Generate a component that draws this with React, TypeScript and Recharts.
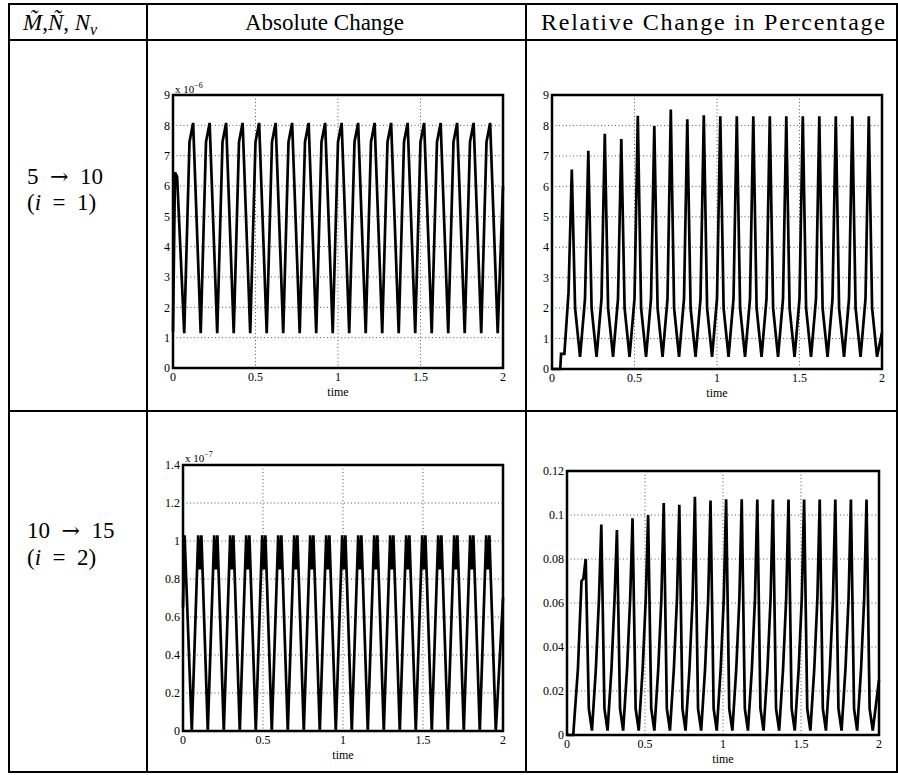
import { CartesianGrid, Line, LineChart, ReferenceArea, XAxis, YAxis } from "recharts"

const SERIF = "'Liberation Serif', 'Times New Roman', serif"

// x-axis ticks shared by all four panels
const timeTicks = [0, 0.5, 1, 1.5, 2]
const ticksNine = [0, 1, 2, 3, 4, 5, 6, 7, 8, 9]
const ticksC = [0, 0.2, 0.4, 0.6, 0.8, 1, 1.2, 1.4]
const ticksD = [0, 0.02, 0.04, 0.06, 0.08, 0.1, 0.12]

// 5 -> 10, absolute change (x 1e-6)
const timeA = [
  0, 0.012, 0.025, 0.068,
  0.1, 0.122, 0.168,
  0.2, 0.222, 0.268,
  0.3, 0.322, 0.368,
  0.4, 0.422, 0.468,
  0.5, 0.522, 0.568,
  0.6, 0.622, 0.668,
  0.7, 0.722, 0.768,
  0.8, 0.822, 0.868,
  0.9, 0.922, 0.968,
  1.0, 1.022, 1.068,
  1.1, 1.122, 1.168,
  1.2, 1.222, 1.268,
  1.3, 1.322, 1.368,
  1.4, 1.422, 1.468,
  1.5, 1.522, 1.568,
  1.6, 1.622, 1.668,
  1.7, 1.722, 1.768,
  1.8, 1.822, 1.868,
  1.9, 1.922, 1.968,
  2.0,
]
const absA = [
  1.2, 6.45, 6.3, 1.15,
  7.45, 8.08, 1.15,
  7.45, 8.08, 1.15,
  7.45, 8.08, 1.15,
  7.45, 8.08, 1.15,
  7.45, 8.08, 1.15,
  7.45, 8.08, 1.15,
  7.45, 8.08, 1.15,
  7.45, 8.08, 1.15,
  7.45, 8.08, 1.15,
  7.45, 8.08, 1.15,
  7.45, 8.08, 1.15,
  7.45, 8.08, 1.15,
  7.45, 8.08, 1.15,
  7.45, 8.08, 1.15,
  7.45, 8.08, 1.15,
  7.45, 8.08, 1.15,
  7.45, 8.08, 1.15,
  7.45, 8.08, 1.15,
  7.45, 8.08, 1.15,
  6.0,
]

// 5 -> 10, relative change in percentage
const timeB = [
  0, 0.05, 0.055, 0.075, 0.1, 0.12, 0.14,
  0.17, 0.2, 0.22, 0.24,
  0.27, 0.3, 0.32, 0.34,
  0.37, 0.4, 0.42, 0.44,
  0.47, 0.5, 0.52, 0.54,
  0.57, 0.6, 0.62, 0.64,
  0.67, 0.7, 0.72, 0.74,
  0.77, 0.8, 0.82, 0.84,
  0.87, 0.9, 0.92, 0.94,
  0.97, 1.0, 1.02, 1.04,
  1.07, 1.1, 1.12, 1.14,
  1.17, 1.2, 1.22, 1.24,
  1.27, 1.3, 1.32, 1.34,
  1.37, 1.4, 1.42, 1.44,
  1.47, 1.5, 1.52, 1.54,
  1.57, 1.6, 1.62, 1.64,
  1.67, 1.7, 1.72, 1.74,
  1.77, 1.8, 1.82, 1.84,
  1.87, 1.9, 1.92, 1.94,
  1.97, 2.0,
]
const relB = [
  0, 0, 0.5, 0.5, 2.5, 6.55, 2.0,
  0.4, 2.3, 7.17, 2.0, // 0.22
  0.4, 2.3, 7.73, 2.0, // 0.32
  0.4, 2.3, 7.55, 2.0, // 0.42
  0.4, 2.3, 8.32, 2.0, // 0.52
  0.4, 2.3, 7.98, 2.0, // 0.62
  0.4, 2.3, 8.52, 2.0, // 0.72
  0.4, 2.3, 8.2, 2.0, // 0.82
  0.4, 2.3, 8.33, 2.0, // 0.92
  0.4, 2.3, 8.3, 2.0, // 1.02
  0.4, 2.3, 8.3, 2.0, // 1.12
  0.4, 2.3, 8.3, 2.0, // 1.22
  0.4, 2.3, 8.3, 2.0, // 1.32
  0.4, 2.3, 8.3, 2.0, // 1.42
  0.4, 2.3, 8.3, 2.0, // 1.52
  0.4, 2.3, 8.3, 2.0, // 1.62
  0.4, 2.3, 8.3, 2.0, // 1.72
  0.4, 2.3, 8.3, 2.0, // 1.82
  0.4, 2.3, 8.3, 2.0, // 1.92
  0.4, 1.2,
]

// 10 -> 15, absolute change (x 1e-7)
const timeC = [
  0, 0.01, 0.055,
  0.095, 0.105, 0.115, 0.155,
  0.195, 0.205, 0.215, 0.255,
  0.295, 0.305, 0.315, 0.355,
  0.395, 0.405, 0.415, 0.455,
  0.495, 0.505, 0.515, 0.555,
  0.595, 0.605, 0.615, 0.655,
  0.695, 0.705, 0.715, 0.755,
  0.795, 0.805, 0.815, 0.855,
  0.895, 0.905, 0.915, 0.955,
  0.995, 1.005, 1.015, 1.055,
  1.095, 1.105, 1.115, 1.155,
  1.195, 1.205, 1.215, 1.255,
  1.295, 1.305, 1.315, 1.355,
  1.395, 1.405, 1.415, 1.455,
  1.495, 1.505, 1.515, 1.555,
  1.595, 1.605, 1.615, 1.655,
  1.695, 1.705, 1.715, 1.755,
  1.795, 1.805, 1.815, 1.855,
  1.895, 1.905, 1.915, 1.955,
  2.0,
]
const absC = [
  0.65, 1.03, 0,
  1.03, 0.85, 1.03, 0,
  1.03, 0.85, 1.03, 0,
  1.03, 0.85, 1.03, 0,
  1.03, 0.85, 1.03, 0,
  1.03, 0.85, 1.03, 0,
  1.03, 0.85, 1.03, 0,
  1.03, 0.85, 1.03, 0,
  1.03, 0.85, 1.03, 0,
  1.03, 0.85, 1.03, 0,
  1.03, 0.85, 1.03, 0,
  1.03, 0.85, 1.03, 0,
  1.03, 0.85, 1.03, 0,
  1.03, 0.85, 1.03, 0,
  1.03, 0.85, 1.03, 0,
  1.03, 0.85, 1.03, 0,
  1.03, 0.85, 1.03, 0,
  1.03, 0.85, 1.03, 0,
  1.03, 0.85, 1.03, 0,
  1.03, 0.85, 1.03, 0,
  0.7,
]

// 10 -> 15, relative change in percentage
const timeD = [
  0, 0.04, 0.07, 0.093, 0.105, 0.12, 0.14,
  0.16, 0.185, 0.205, 0.22, 0.24,
  0.26, 0.285, 0.305, 0.32, 0.34,
  0.36, 0.385, 0.405, 0.42, 0.44,
  0.46, 0.485, 0.505, 0.52, 0.54,
  0.56, 0.585, 0.605, 0.62, 0.64,
  0.66, 0.685, 0.705, 0.72, 0.74,
  0.76, 0.785, 0.805, 0.82, 0.84,
  0.86, 0.885, 0.905, 0.92, 0.94,
  0.96, 0.985, 1.005, 1.02, 1.04,
  1.06, 1.085, 1.105, 1.12, 1.14,
  1.16, 1.185, 1.205, 1.22, 1.24,
  1.26, 1.285, 1.305, 1.32, 1.34,
  1.36, 1.385, 1.405, 1.42, 1.44,
  1.46, 1.485, 1.505, 1.52, 1.54,
  1.56, 1.585, 1.605, 1.62, 1.64,
  1.66, 1.685, 1.705, 1.72, 1.74,
  1.76, 1.785, 1.805, 1.82, 1.84,
  1.86, 1.885, 1.905, 1.92, 1.94,
  1.96, 2.0,
]
const relD = [
  0, 0, 0.03, 0.07, 0.071, 0.08, 0.012,
  0.002, 0.03, 0.062, 0.0957, 0.012,
  0.002, 0.03, 0.062, 0.0932, 0.012,
  0.002, 0.03, 0.062, 0.0985, 0.012,
  0.002, 0.03, 0.062, 0.1, 0.012,
  0.002, 0.03, 0.062, 0.1054, 0.012,
  0.002, 0.03, 0.062, 0.1046, 0.012,
  0.002, 0.03, 0.062, 0.1083, 0.012,
  0.002, 0.03, 0.062, 0.1066, 0.012,
  0.002, 0.03, 0.062, 0.1072, 0.012,
  0.002, 0.03, 0.062, 0.1072, 0.012,
  0.002, 0.03, 0.062, 0.107, 0.012,
  0.002, 0.03, 0.062, 0.107, 0.012,
  0.002, 0.03, 0.062, 0.107, 0.012,
  0.002, 0.03, 0.062, 0.107, 0.012,
  0.002, 0.03, 0.062, 0.107, 0.012,
  0.002, 0.03, 0.062, 0.107, 0.012,
  0.002, 0.03, 0.062, 0.107, 0.012,
  0.002, 0.03, 0.062, 0.107, 0.012,
  0.002, 0.025,
]

const zip = (ts: number[], vs: number[]) => ts.map((t, i) => ({ t, v: vs[i] }))

const Y_W = 40
const TOP = 12
const X_H = 30
const RIGHT = 8

type PanelProps = {
  x: number // plot left, page px
  y: number // plot top
  w: number
  h: number
  data: { t: number; v: number }[]
  yMax: number
  yTicks: number[]
}

const Panel = ({ x, y, w, h, data, yMax, yTicks }: PanelProps) => {
  const tickStyle = { fill: "#000", fontSize: 12, fontFamily: SERIF }
  return (
    <div style={{ position: "absolute", left: x - Y_W, top: y - TOP }}>
      <LineChart
        width={Y_W + w + RIGHT}
        height={TOP + h + X_H}
        data={data}
        margin={{ top: TOP, right: RIGHT, bottom: 0, left: 0 }}
      >
        <CartesianGrid stroke="#555" strokeDasharray="1 2.5" strokeWidth={1} />
        <XAxis
          dataKey="t"
          type="number"
          domain={[0, 2]}
          ticks={timeTicks}
          height={X_H}
          axisLine={false}
          tickLine={false}
          tickSize={3}
          tickMargin={1}
          tick={tickStyle}
          label={{ value: "time", position: "insideBottom", offset: 2, ...tickStyle }}
        />
        <YAxis
          type="number"
          domain={[0, yMax]}
          ticks={yTicks}
          width={Y_W}
          axisLine={false}
          tickLine={false}
          tickSize={2}
          tickMargin={1}
          tick={tickStyle}
        />
        <ReferenceArea
          x1={0}
          x2={2}
          y1={0}
          y2={yMax}
          fill="none"
          fillOpacity={0}
          stroke="#000"
          strokeWidth={2.5}
          ifOverflow="visible"
        />
        <Line
          type="linear"
          dataKey="v"
          stroke="#000"
          strokeWidth={2.7}
          dot={false}
          isAnimationActive={false}
        />
      </LineChart>
    </div>
  )
}

const EN = "\u2002"

export default function App() {
  const big = { fontSize: 23, fontFamily: SERIF, fill: "#000" }
  const arrow = { fontFamily: "'DejaVu Serif', serif", fontSize: 22 }
  return (
    <div
      style={{
        position: "absolute",
        left: 0,
        top: 0,
        width: 898,
        height: 775,
        background: "#fff",
        overflow: "hidden",
      }}
    >
      <Panel x={173} y={95} w={330} h={273} data={zip(timeA, absA)} yMax={9} yTicks={ticksNine} />
      <Panel x={552} y={95} w={330} h={274} data={zip(timeB, relB)} yMax={9} yTicks={ticksNine} />
      <Panel x={183} y={465} w={320} h={266} data={zip(timeC, absC)} yMax={1.4} yTicks={ticksC} />
      <Panel x={567} y={471} w={312} h={264} data={zip(timeD, relD)} yMax={0.12} yTicks={ticksD} />

      <svg
        width={898}
        height={775}
        style={{ position: "absolute", left: 0, top: 0, pointerEvents: "none" }}
      >
        <g stroke="#000" strokeWidth={2}>
          <line x1={8} y1={4} x2={898} y2={4} />
          <line x1={8} y1={40} x2={898} y2={40} />
          <line x1={8} y1={411} x2={898} y2={411} />
          <line x1={8} y1={772} x2={898} y2={772} />
          <line x1={9} y1={3} x2={9} y2={773} />
          <line x1={147} y1={3} x2={147} y2={773} />
          <line x1={526} y1={3} x2={526} y2={773} />
          <line x1={897} y1={3} x2={897} y2={773} />
        </g>

        {/* header: combining tildes over M and N */}
        <text x={23} y={30} style={big}>
          <tspan fontStyle="italic">{"M\u0303"}</tspan>,<tspan fontStyle="italic">{"N\u0303"}</tspan>,{" "}
          <tspan fontStyle="italic">N</tspan>
          <tspan fontStyle="italic" fontSize={16} dy={5}>v</tspan>
        </text>
        <text x={245} y={30} style={big}>Absolute Change</text>
        <text x={541} y={30} style={{ ...big, fontSize: 24 }} textLength={344} lengthAdjust="spacing">
          Relative Change in Percentage
        </text>

        <text x={27} y={184} style={big}>
          5{EN}<tspan style={arrow}>→</tspan>{EN}10
        </text>
        <text x={27} y={210} style={big}>
          (<tspan fontStyle="italic">i</tspan>{EN}={EN}1)
        </text>
        <text x={27} y={538} style={big}>
          10{EN}<tspan style={arrow}>→</tspan>{EN}15
        </text>
        <text x={27} y={565} style={big}>
          (<tspan fontStyle="italic">i</tspan>{EN}={EN}2)
        </text>

        <text x={175} y={93} style={{ fontSize: 11, fontFamily: SERIF }}>
          x 10<tspan fontSize={8} dy={-5}>−6</tspan>
        </text>
        <text x={185} y={462} style={{ fontSize: 11, fontFamily: SERIF }}>
          x 10<tspan fontSize={8} dy={-5}>−7</tspan>
        </text>
      </svg>
    </div>
  )
}
